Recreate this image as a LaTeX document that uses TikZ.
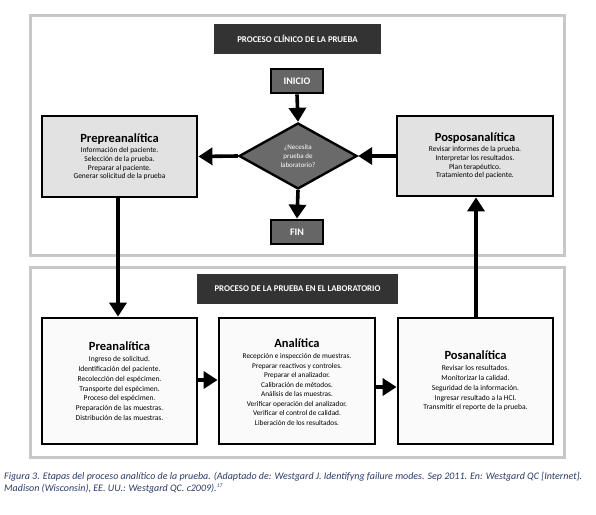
\documentclass[tikz,border=0pt]{standalone}
\usepackage{fontspec}
\setmainfont{Carlito}
\usetikzlibrary{arrows.meta,shapes.geometric}
\definecolor{framegray}{HTML}{C8C8C8}
\definecolor{barcol}{HTML}{333333}
\definecolor{termcol}{HTML}{666666}
\definecolor{diacol}{HTML}{6A6A6A}
\definecolor{clinfill}{HTML}{E2E2E2}
\definecolor{labfill}{HTML}{FAFAFA}
\definecolor{capcol}{HTML}{2B3A6B}
\tikzset{
  frame/.style={draw=framegray,line width=3pt,fill=white},
  bar/.style={fill=barcol,text=white,font=\bfseries\fontsize{8.8}{10}\selectfont,inner sep=0pt},
  term/.style={draw=black,line width=2.8pt,fill=termcol,text=white,font=\bfseries\fontsize{10}{12}\selectfont,inner sep=0pt},
  clinbox/.style={draw=black,line width=2.8pt,fill=clinfill,inner sep=0pt,align=center},
  labbox/.style={draw=black,line width=2.8pt,fill=labfill,inner sep=0pt,align=center},
  body/.style={font=\fontsize{7.5}{8.7}\selectfont,align=center},
  flow/.style={line width=3.6pt,-{Triangle[length=14pt,width=17pt]}}
}
\newcommand{\ttl}[1]{{\bfseries\fontsize{12.5}{14}\selectfont #1}\\[1.5pt]}
\begin{document}
\begin{tikzpicture}[x=1pt,y=-1pt]
\useasboundingbox (0,0) rectangle (596,514);
% frames
\draw[frame] (30,15) rectangle (564,255);
\draw[frame] (30,267) rectangle (564,457);
% title bars
\node[bar,minimum width=167pt,minimum height=30pt] (t1) at (297.5,39) {PROCESO CLÍNICO DE LA PRUEBA};
\node[bar,minimum width=201pt,minimum height=30pt] (t2) at (297.5,289) {PROCESO DE LA PRUEBA EN EL LABORATORIO};
% clinical
\node[term,minimum width=52pt,minimum height=24pt] (ini) at (297,81) {INICIO};
\node[term,minimum width=52pt,minimum height=24pt] (fin) at (297,232) {FIN};
\node[diamond,draw=black,line width=2.4pt,fill=diacol,minimum width=118pt,minimum height=66pt,inner sep=0pt,aspect=1.8] (dia) at (298,156) {};
\node[text=white,font=\fontsize{7}{8.8}\selectfont,align=center] (diatxt) at (298,156) {¿Necesita\\prueba de\\laboratorio?};
\node[clinbox,minimum width=155pt,minimum height=81pt] (pp) at (119.5,156.5) {};
\node[body] (pptxt) at (119.5,157) {\ttl{Prepreanalítica}Información del paciente.\\Selección de la prueba.\\Preparar al paciente.\\Generar solicitud de la prueba};
\node[clinbox,minimum width=156pt,minimum height=80pt] (pos) at (475,156) {};
\node[body] (postxt) at (475,156) {\ttl{Posposanalítica}Revisar informes de la prueba.\\Interpretar los resultados.\\Plan terapéutico.\\Tratamiento del paciente.};
% lab
\node[labbox,minimum width=155pt,minimum height=126pt] (pre) at (119.5,381) {};
\node[body,font=\fontsize{7.5}{9.8}\selectfont] (pretxt) at (119.5,381) {\ttl{Preanalítica}Ingreso de solicitud.\\Identificación del paciente.\\Recolección del espécimen.\\Transporte del espécimen.\\Proceso del espécimen.\\Preparación de las muestras.\\Distribución de las muestras.};
\node[labbox,minimum width=156pt,minimum height=126pt] (ana) at (297,381) {};
\node[body,font=\fontsize{7.3}{9.5}\selectfont] (anatxt) at (297,382) {\ttl{Analítica}Recepción e inspección de muestras.\\Preparar reactivos y controles.\\Preparar el analizador.\\Calibración de métodos.\\Análisis de las muestras.\\Verificar operación del analizador.\\Verificar el control de calidad.\\Liberación de los resultados.};
\node[labbox,minimum width=155pt,minimum height=126pt] (pan) at (475.5,381) {};
\node[body,font=\fontsize{7.5}{9.7}\selectfont] (pantxt) at (475.5,381) {\ttl{Posanalítica}Revisar los resultados.\\Monitorizar la calidad.\\Seguridad de la información.\\Ingresar resultado a la HCI.\\Transmitir el reporte de la prueba.};
% connectors
\draw[flow] (ini.south) -- (dia.north);
\draw[flow] (dia.south) -- (fin.north);
\draw[flow] (dia.west) -- (pp.east);
\draw[flow] (pos.west) -- (dia.east);
\draw[flow] (pp.south -| 118,0) -- (pre.north -| 118,0);
\draw[flow] (pan.north -| 476,0) -- (pos.south -| 476,0);
\draw[flow] (pre.east |- 0,380) -- (ana.west |- 0,380);
\draw[flow] (ana.east |- 0,387) -- (pan.west |- 0,387);
% caption
\node[anchor=north west,text=capcol,font=\itshape\fontsize{10}{11.5}\selectfont,align=left,inner sep=0pt] (cap) at (4,472) {Figura 3. Etapas del proceso analítico de la prueba. (Adaptado de: Westgard J. Identifyng failure modes. Sep 2011. En: Westgard QC [Internet].\\Madison (Wisconsin), EE. UU.: Westgard QC. c2009).\textsuperscript{\fontsize{5.5}{6}\selectfont 17}};
\end{tikzpicture}
\end{document}
